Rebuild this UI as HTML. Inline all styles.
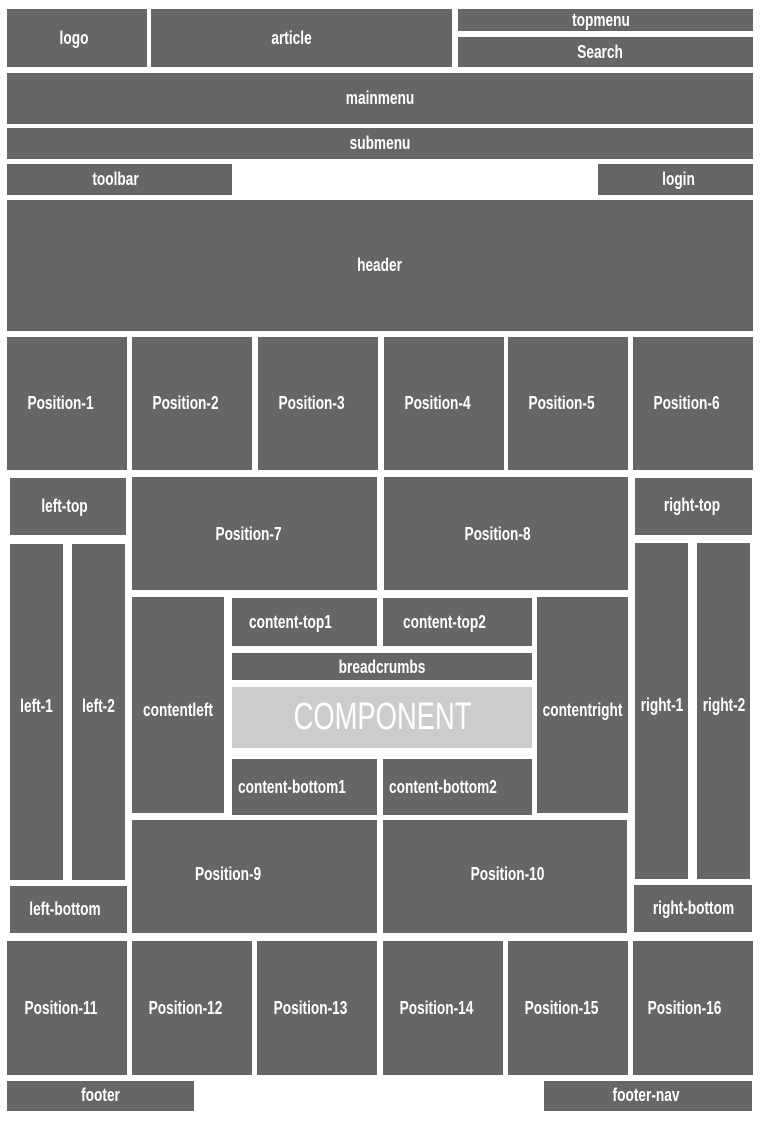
<!DOCTYPE html>
<html><head><meta charset="utf-8"><style>
html,body{margin:0;padding:0;background:#fff;width:760px;height:1125px;overflow:hidden}
.b{position:absolute;background:#666;color:#fff;display:flex;align-items:center;justify-content:center;font-family:"Liberation Sans Narrow","Liberation Sans",sans-serif;font-weight:bold;font-size:18px;white-space:nowrap;box-sizing:border-box}
.b span{display:inline-block;transform:scaleX(0.76)}
.l{justify-content:flex-start}
.l span{transform-origin:left center}
.s{padding-right:12px}
</style></head><body>
<div class="b" style="left:7px;top:9px;width:140px;height:58px;padding-right:6px"><span>logo</span></div>
<div class="b s" style="left:151px;top:9px;width:301px;height:58px;padding-right:20px"><span>article</span></div>
<div class="b" style="left:458px;top:9px;width:295px;height:22px;padding-right:10px"><span>topmenu</span></div>
<div class="b" style="left:458px;top:37px;width:295px;height:30px;padding-right:10px"><span>Search</span></div>
<div class="b" style="left:7px;top:73px;width:746px;height:51px"><span>mainmenu</span></div>
<div class="b" style="left:7px;top:128px;width:746px;height:31px"><span>submenu</span></div>
<div class="b" style="left:7px;top:164px;width:225px;height:31px;padding-right:8px"><span>toolbar</span></div>
<div class="b" style="left:598px;top:164px;width:155px;height:31px;padding-left:6px"><span>login</span></div>
<div class="b" style="left:7px;top:200px;width:746px;height:131px"><span>header</span></div>

<div class="b s" style="left:7px;top:337px;width:120px;height:133px"><span>Position-1</span></div>
<div class="b s" style="left:132px;top:337px;width:120px;height:133px"><span>Position-2</span></div>
<div class="b s" style="left:258px;top:337px;width:120px;height:133px"><span>Position-3</span></div>
<div class="b s" style="left:384px;top:337px;width:120px;height:133px"><span>Position-4</span></div>
<div class="b s" style="left:508px;top:337px;width:120px;height:133px"><span>Position-5</span></div>
<div class="b s" style="left:633px;top:337px;width:120px;height:133px"><span>Position-6</span></div>

<div class="b" style="left:10px;top:478px;width:116px;height:57px;padding-right:8px"><span>left-top</span></div>
<div class="b" style="left:10px;top:544px;width:53px;height:336px;padding-bottom:12px"><span>left-1</span></div>
<div class="b" style="left:72px;top:544px;width:53px;height:336px;padding-bottom:12px"><span>left-2</span></div>
<div class="b" style="left:10px;top:886px;width:117px;height:47px;padding-right:8px"><span>left-bottom</span></div>

<div class="b s" style="left:132px;top:477px;width:245px;height:113px;padding-top:2px"><span>Position-7</span></div>
<div class="b s" style="left:384px;top:477px;width:244px;height:113px;padding-right:16px;padding-top:2px"><span>Position-8</span></div>

<div class="b" style="left:635px;top:478px;width:117px;height:57px;padding-right:4px;padding-bottom:2px"><span>right-top</span></div>
<div class="b" style="left:635px;top:543px;width:53px;height:336px;padding-bottom:12px"><span>right-1</span></div>
<div class="b" style="left:697px;top:543px;width:53px;height:336px;padding-bottom:12px"><span>right-2</span></div>
<div class="b" style="left:634px;top:885px;width:118px;height:47px"><span>right-bottom</span></div>

<div class="b" style="left:132px;top:597px;width:92px;height:216px;padding-top:10px"><span>contentleft</span></div>
<div class="b l" style="left:232px;top:598px;width:145px;height:48px;padding-left:17px"><span>content-top1</span></div>
<div class="b l" style="left:383px;top:598px;width:149px;height:48px;padding-left:20px"><span>content-top2</span></div>
<div class="b" style="left:232px;top:653px;width:300px;height:27px;padding-top:2px"><span>breadcrumbs</span></div>
<div class="b" style="left:232px;top:687px;width:300px;height:61px;background:#ccc;font-weight:normal;font-size:38px"><span style="transform:scaleX(0.72)">COMPONENT</span></div>
<div class="b l" style="left:232px;top:759px;width:145px;height:56px;padding-left:6px"><span>content-bottom1</span></div>
<div class="b l" style="left:383px;top:759px;width:149px;height:56px;padding-left:6px"><span>content-bottom2</span></div>
<div class="b" style="left:537px;top:597px;width:91px;height:216px;padding-top:10px"><span>contentright</span></div>

<div class="b l" style="left:132px;top:820px;width:245px;height:113px;padding-left:63px;padding-bottom:4px"><span>Position-9</span></div>
<div class="b" style="left:383px;top:820px;width:244px;height:113px;padding-left:6px;padding-bottom:4px"><span>Position-10</span></div>

<div class="b s" style="left:7px;top:941px;width:120px;height:134px"><span>Position-11</span></div>
<div class="b s" style="left:132px;top:941px;width:120px;height:134px"><span>Position-12</span></div>
<div class="b s" style="left:257px;top:941px;width:120px;height:134px"><span>Position-13</span></div>
<div class="b s" style="left:383px;top:941px;width:120px;height:134px"><span>Position-14</span></div>
<div class="b s" style="left:508px;top:941px;width:120px;height:134px"><span>Position-15</span></div>
<div class="b s" style="left:633px;top:941px;width:120px;height:134px;padding-right:16px"><span>Position-16</span></div>

<div class="b" style="left:7px;top:1081px;width:187px;height:30px;padding-top:0;padding-bottom:2px"><span>footer</span></div>
<div class="b" style="left:544px;top:1081px;width:208px;height:30px;padding-right:4px;padding-bottom:2px"><span>footer-nav</span></div>
</body></html>
